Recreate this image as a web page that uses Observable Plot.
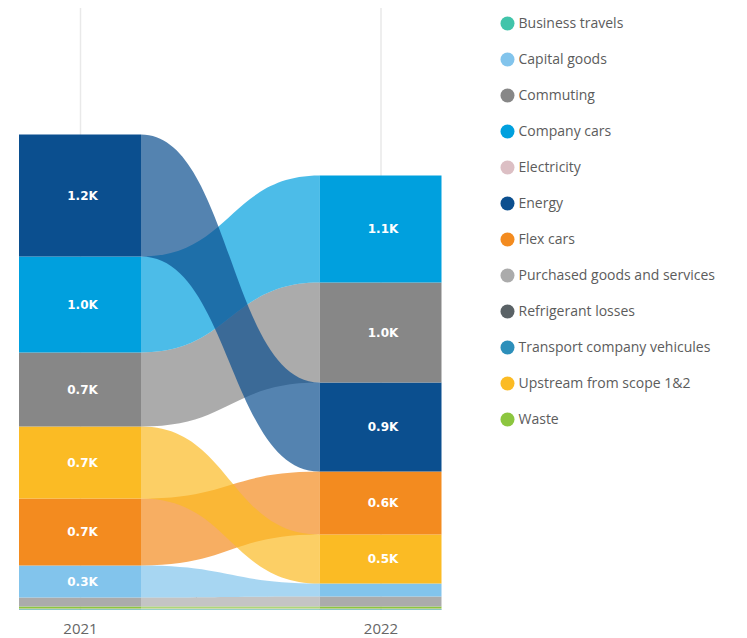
<!DOCTYPE html>
<html>
<head>
<meta charset="utf-8">
<script src="https://cdn.jsdelivr.net/npm/d3@7"></script>
<script src="https://cdn.jsdelivr.net/npm/@observablehq/plot@0.6"></script>
<style>
  html, body { margin: 0; padding: 0; background: #fff; }
  #wrap { display: flex; flex-direction: row; align-items: flex-start; width: 747px; height: 638px; overflow: hidden; }
</style>
</head>
<body>
<div id="wrap"></div>
<script>
const categories = [
  "Business travels", "Capital goods", "Commuting", "Company cars", "Electricity", "Energy",
  "Flex cars", "Purchased goods and services", "Refrigerant losses",
  "Transport company vehicules", "Upstream from scope 1&2", "Waste"
];
const colors = [
  "#41c4aa", "#82c4ec", "#878787", "#00a0de", "#dcbfc4", "#0b4f8f",
  "#f38b1f", "#ababab", "#5a6266", "#2d8fba", "#fbbb24", "#8cc63f"
];
const years = [2021, 2022];
// values in thousands (K)
const values2021 = [0.004, 0.32, 0.74, 0.96, 0.006, 1.22, 0.67, 0.09, 0.002, 0.003, 0.72, 0.02];
const values2022 = [0.004, 0.13, 1.00, 1.07, 0.006, 0.89, 0.63, 0.10, 0.002, 0.003, 0.49, 0.02];

function stack(values, year) {
  const idx = d3.range(categories.length).sort((a, b) => values[a] - values[b]);
  let acc = 0;
  const out = [];
  for (const i of idx) {
    out.push({category: categories[i], year, value: values[i], y1: acc, y2: acc + values[i]});
    acc += values[i];
  }
  return out;
}

const bars = [...stack(values2021, 2021), ...stack(values2022, 2022)];
const hw = 0.203;
const yTop = 6.02;

const ribbons = categories
  .map(c => [bars.find(b => b.category === c && b.year === 2021), bars.find(b => b.category === c && b.year === 2022)])
  .sort((a, b) => a[0].value - b[0].value)
  .flatMap(([a, b]) => [
    {category: a.category, x: 2021 + hw, y1: a.y1, y2: a.y2},
    {category: b.category, x: 2022 - hw, y1: b.y1, y2: b.y2}
  ]);

const colorScale = {domain: categories, range: colors};

const chart = Plot.plot({
  width: 470,
  height: 638,
  marginTop: 8,
  marginBottom: 28,
  marginLeft: 0,
  marginRight: 0,
  style: {fontFamily: "'Open Sans', sans-serif", background: "#fff"},
  x: {domain: [2021, 2022], range: [80, 380.5]},
  y: {domain: [0, yTop], axis: null},
  color: colorScale,
  marks: [
    Plot.ruleX(years, {x: d => d, y1: 0, y2: yTop, stroke: "#e9e9e9", strokeWidth: 1.5}),
    Plot.areaY(ribbons, {x: "x", y1: "y1", y2: "y2", z: "category", fill: "category", fillOpacity: 0.7, curve: "bump-x"}),
    Plot.rect(bars, {x1: d => d.year - hw, x2: d => d.year + hw, y1: "y1", y2: "y2", fill: "category"}),
    Plot.text(bars.filter(d => d.value >= 0.25), {
      x: "year", y: d => (d.y1 + d.y2) / 2, dx: 2,
      text: d => d3.format(".1f")(d.value) + "K",
      fill: "white", fontWeight: "bold", fontSize: 12, fontFamily: "'DejaVu Sans', sans-serif"
    }),
    Plot.axisX({ticks: years, tickFormat: d => String(d), tickSize: 0, tickPadding: 13, fontSize: 15, color: "#666", label: null})
  ]
});

const legend = Plot.plot({
  width: 277,
  height: 440,
  margin: 0,
  style: {fontFamily: "'Open Sans', sans-serif", background: "#fff"},
  y: {type: "point", domain: categories, range: [22, 420], padding: 0, axis: null},
  color: colorScale,
  marks: [
    Plot.dot(categories, {y: d => d, fill: d => d, r: 7, frameAnchor: "left", dx: 37}),
    Plot.text(categories, {y: d => d, text: d => d, frameAnchor: "left", textAnchor: "start", dx: 48, fontSize: 14, fill: "#5c5c5c"})
  ]
});

const wrap = document.getElementById("wrap");
wrap.appendChild(chart);
wrap.appendChild(legend);
</script>
</body>
</html>
